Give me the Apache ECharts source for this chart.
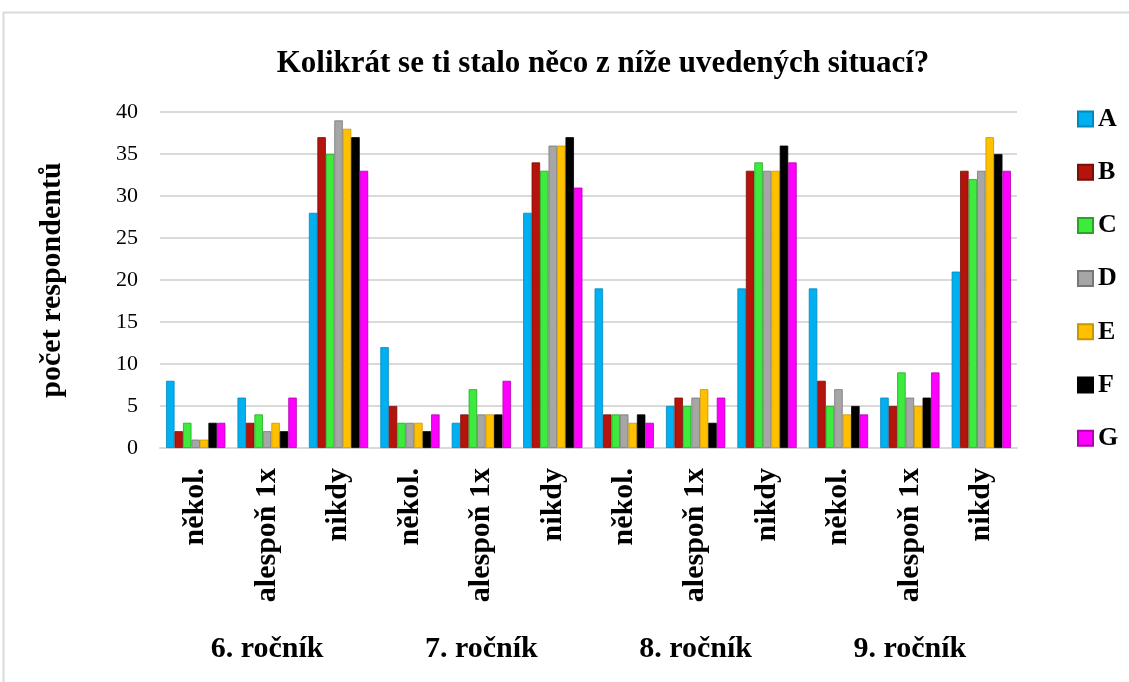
<!DOCTYPE html>
<html>
<head>
<meta charset="utf-8">
<script src="https://cdn.jsdelivr.net/npm/echarts@6/dist/echarts.min.js"></script>
<style>
html,body{margin:0;padding:0;background:#fff;}
#chart{width:1129px;height:682px;}
</style>
</head>
<body>
<div id="chart"></div>
<script>
const categories = ['někol.','alespoň 1x','nikdy','někol.','alespoň 1x','nikdy','někol.','alespoň 1x','nikdy','někol.','alespoň 1x','nikdy'];
const groups = ['6. ročník','7. ročník','8. ročník','9. ročník'];
const seriesNames = ['A','B','C','D','E','F','G'];
const valuesA = [8,6,28,12,3,28,19,5,19,19,6,21];
const valuesB = [2,3,37,5,4,34,4,6,33,8,5,33];
const valuesC = [3,4,35,3,7,33,4,5,34,5,9,32];
const valuesD = [1,2,39,3,4,36,4,6,33,7,6,33];
const valuesE = [1,3,38,3,4,36,3,7,33,4,5,37];
const valuesF = [3,2,37,2,4,37,4,3,36,5,6,35];
const valuesG = [3,6,33,4,8,31,3,6,34,4,9,33];
const yTicks = [0,5,10,15,20,25,30,35,40];

const allValues = [valuesA,valuesB,valuesC,valuesD,valuesE,valuesF,valuesG];
const colors = ['#00B0F0','#B5140C','#3EEA3E','#A6A6A6','#FFC000','#000000','#FF00FF'];
const borders = ['#0088bb','#7a0d08','#22a822','#777777','#c99600','#000000','#b000b0'];
const serif = "'Liberation Serif','Times New Roman',serif";

const chart = echarts.init(document.getElementById('chart'));
chart.setOption({
  backgroundColor:'#ffffff',
  color: colors,
  animation:false,
  title:{
    text:'Kolikrát se ti stalo něco z níže uvedených situací?',
    left: 598, textAlign:'center', top:43,
    textStyle:{fontFamily:serif,fontWeight:'bold',fontSize:31,color:'#000'}
  },
  graphic:[{
    type:'rect', silent:true,
    shape:{x:3.5,y:12.5,width:1140,height:700},
    style:{fill:'none',stroke:'#d9d9d9',lineWidth:2}
  }],
  legend:{
    orient:'vertical', left:1072, top:101,
    itemWidth:15, itemHeight:15, itemGap:27.2,
    icon:'rect',
    data: seriesNames,
    textStyle:{fontFamily:serif,fontWeight:'bold',fontSize:26,color:'#000',lineHeight:24}
  },
  grid:{left:160,right:112,top:112,bottom:234},
  xAxis:[{
    type:'category', data:categories,
    axisLine:{show:true,lineStyle:{color:'#d9d9d9',width:2}},
    axisTick:{show:false},
    axisLabel:{rotate:90,margin:20,interval:0,fontFamily:serif,fontWeight:'bold',fontSize:30,color:'#000'}
  },{
    type:'category', data:groups, position:'bottom', offset:178,
    axisLine:{show:false}, axisTick:{show:false},
    axisLabel:{margin:8,interval:0,fontFamily:serif,fontWeight:'bold',fontSize:30,color:'#000'}
  }],
  yAxis:{
    type:'value', min:0, max:40, interval:5,
    name:'počet respondentů', nameLocation:'middle', nameGap:93,
    nameTextStyle:{fontFamily:serif,fontWeight:'bold',fontSize:30,color:'#000'},
    axisLine:{show:false}, axisTick:{show:false},
    axisLabel:{margin:22,fontFamily:serif,fontSize:22,color:'#000',
      formatter:function(v){return yTicks.indexOf(v)>=0?String(v):'';}},
    splitLine:{lineStyle:{color:'#d9d9d9',width:2}}
  },
  series: seriesNames.map(function(n,i){
    return {
      name:n, type:'bar', xAxisIndex:0, data:allValues[i],
      barGap:'0%', barCategoryGap:'17%',
      itemStyle:{color:colors[i],borderColor:borders[i],borderWidth:0.8}
    };
  })
});
</script>
</body>
</html>
